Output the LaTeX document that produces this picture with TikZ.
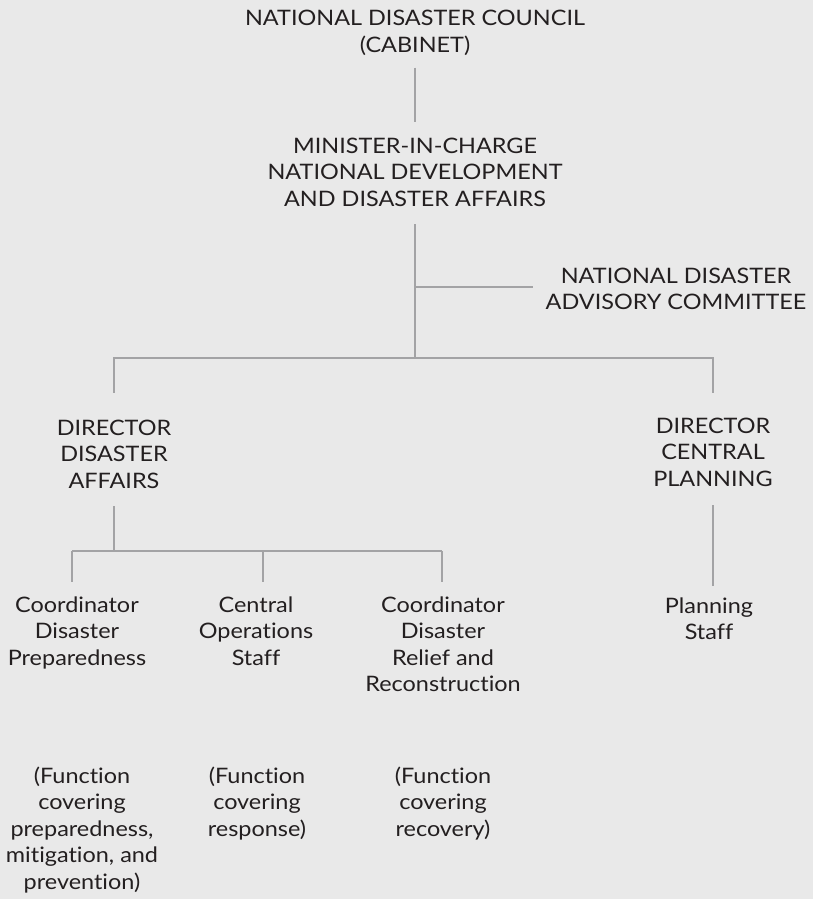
\documentclass[tikz,border=0pt]{standalone}
\usepackage{fontspec}
\setmainfont[FakeStretch=1.1,Ligatures={NoCommon}]{Lato}
\usetikzlibrary{calc}
\definecolor{bg}{HTML}{E9E9E9}
\definecolor{ink}{HTML}{231F20}
\definecolor{rule}{HTML}{A3A3A5}
\newcommand{\ml}[1]{\begin{tabular}[t]{@{}c@{}}#1\end{tabular}}
\begin{document}
\begin{tikzpicture}[x=1pt,y=-1pt,
  lbl/.style={inner sep=0pt,anchor=base,text=ink,font=\fontsize{21.3}{26.5}\selectfont},
  conn/.style={draw=rule,line width=2.6pt}]
\fill[bg] (0,0) rectangle (813,899);
\useasboundingbox (0,0) rectangle (813,899);
% nodes
\node[lbl] (council) at (415,26) {\ml{NATIONAL DISASTER COUNCIL\\(CABINET)}};
\node[lbl] (minister) at (415,153) {\ml{MINISTER-IN-CHARGE\\NATIONAL DEVELOPMENT\\AND DISASTER AFFAIRS}};
\node[lbl] (advisory) at (676,283) {\ml{NATIONAL DISASTER\\ADVISORY COMMITTEE}};
\node[lbl] (dirDA) at (114,435) {\ml{DIRECTOR\\DISASTER\\AFFAIRS}};
\node[lbl] (dirCP) at (713,433) {\ml{DIRECTOR\\CENTRAL\\PLANNING}};
\node[lbl] (coordP) at (77,612) {\ml{Coordinator\\Disaster\\Preparedness}};
\node[lbl] (central) at (256,612) {\ml{Central\\Operations\\Staff}};
\node[lbl] (coordR) at (443,612) {\ml{Coordinator\\Disaster\\Relief and\\Reconstruction}};
\node[lbl] (planning) at (709,613) {\ml{Planning\\Staff}};
\node[lbl] (funcP) at (82,783) {\ml{(Function\\covering\\preparedness,\\mitigation, and\\prevention)}};
\node[lbl] (funcR) at (257,783) {\ml{(Function\\covering\\response)}};
\node[lbl] (funcRec) at (443,783) {\ml{(Function\\covering\\recovery)}};
% junctions
\coordinate (jbar) at (415,358);
\coordinate (jadv) at (415,287);
\coordinate (jda) at (114,551);
\coordinate (jP) at (72,551);
\coordinate (jC) at (263,551);
\coordinate (jR) at (442,551);
% connectors
\draw[conn,shorten <=7pt,shorten >=12.5pt] (council.south) -- (minister.north);
\draw[conn,shorten <=10pt] (minister.south) -- (jbar);
\draw[conn,shorten >=13pt] (jadv) -- (jadv -| advisory.west);
\draw[conn,shorten <=23.5pt,shorten >=21.5pt] (dirDA.north) |- (jbar) -| (dirCP.north);
\draw[conn,shorten <=10pt] (dirDA.south) -- (jda);
\draw[conn] (jP) -- (jR);
\draw[conn,shorten >=11.5pt] (jP) -- (jP |- coordP.north);
\draw[conn,shorten >=11.5pt] (jC) -- (jC |- central.north);
\draw[conn,shorten >=11.5pt] (jR) -- (jR |- coordR.north);
\draw[conn,shorten <=11pt,shorten >=8.5pt] (dirCP.south) -- (dirCP.south |- planning.north);
\end{tikzpicture}
\end{document}
